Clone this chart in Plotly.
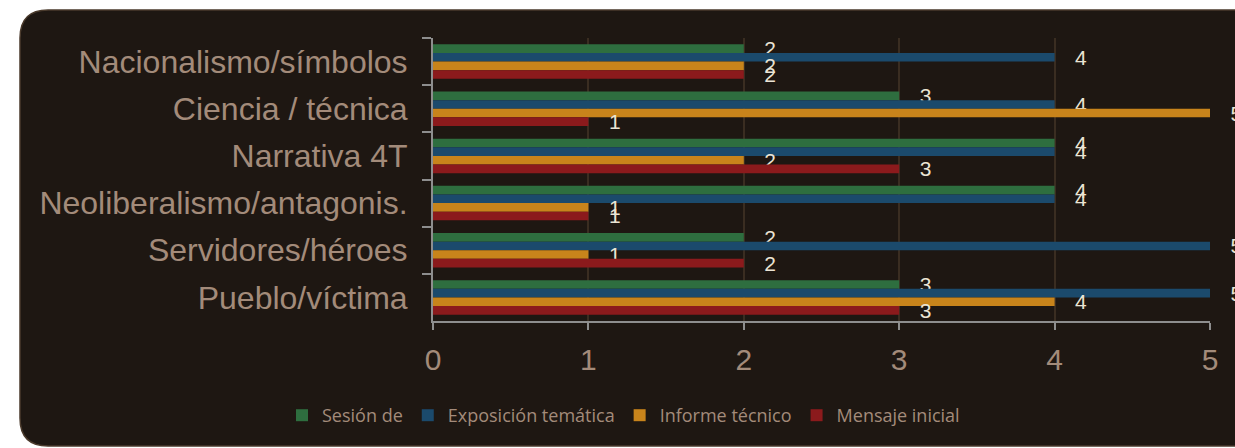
import plotly.graph_objects as go

categories = ["Nacionalismo/símbolos", "Ciencia / técnica", "Narrativa 4T",
              "Neoliberalismo/antagonis.", "Servidores/héroes", "Pueblo/víctima"]
series_names = ["Sesión de", "Exposición temática", "Informe técnico", "Mensaje inicial"]
sesion = [2, 3, 4, 4, 2, 3]
exposicion = [4, 4, 4, 4, 5, 5]
informe = [2, 5, 2, 1, 1, 4]
mensaje = [2, 1, 3, 1, 2, 3]
x_ticks = [0, 1, 2, 3, 4, 5]

colors = ["#2e6e3f", "#1b4a6c", "#c8841b", "#8b1a1c"]
BG = "#1e1712"
LABEL = "#a38b7a"
VALUE = "#ebe4d4"

fig = go.Figure()
for name, vals, col in zip(series_names, [sesion, exposicion, informe, mensaje], colors):
    fig.add_trace(go.Bar(
        y=categories, x=vals, name=name, orientation="h",
        marker=dict(color=col, line=dict(width=0)),
        texttemplate="\u00a0\u00a0\u00a0%{x}", textposition="outside",
        textfont=dict(color=VALUE, size=21, family="Liberation Sans, Arial"),
        constraintext="none", cliponaxis=False,
    ))

# rounded background panel (paper coords)
L, R, T, B = 433, 1210, 38, 321
W, H = R - L, B - T
def px(x):
    return (x - L) / W
def py(y):
    return (B - y) / H
x0, x1, yt, yb = px(20), px(1320), py(10), py(446)
rx, ry = 28 / W, 28 / H
path = (f"M {x0+rx},{yt} L {x1},{yt} L {x1},{yb} L {x0+rx},{yb} "
        f"Q {x0},{yb} {x0},{yb+ry} L {x0},{yt-ry} Q {x0},{yt} {x0+rx},{yt} Z")

fig.update_layout(
    width=1235, height=448,
    margin=dict(l=L, r=1235 - R, t=T, b=448 - B, pad=0),
    paper_bgcolor="white", plot_bgcolor="rgba(0,0,0,0)",
    barmode="group", bargap=0.27, bargroupgap=0,
    font=dict(family="Liberation Sans, Arial", color=LABEL),
    shapes=[dict(type="path", path=path, xref="paper", yref="paper",
                 fillcolor=BG, line=dict(color="#4a3a2c", width=1.5), layer="below")],
    legend=dict(orientation="h", x=px(282), xanchor="left", y=py(397), yanchor="top",
                font=dict(family="Open Sans", size=18, color=LABEL),
                itemwidth=30, bgcolor="rgba(0,0,0,0)", traceorder="normal"),
    showlegend=True,
)
fig.update_xaxes(range=[0, 5], tickvals=x_ticks, ticktext=[str(v) for v in x_ticks],
                 showgrid=True, gridcolor="#3a2d21", gridwidth=1.5,
                 zeroline=False, showline=True, linecolor="#8e8e8e", linewidth=2,
                 ticks="outside", ticklen=7, tickwidth=2, tickcolor="#8e8e8e",
                 tickfont=dict(size=30, color=LABEL), ticklabelstandoff=4)
fig.update_yaxes(autorange="reversed", showgrid=False, zeroline=False,
                 showline=True, linecolor="#8e8e8e", linewidth=2,
                 ticks="outside", tickson="boundaries", ticklen=9, tickwidth=2,
                 tickcolor="#8e8e8e", tickfont=dict(size=32, color=LABEL),
                 ticklabelstandoff=17)

fig.write_html("out.html", config={"displayModeBar": False},
               post_script="document.body.style.margin='0';document.body.style.overflow='hidden';")
